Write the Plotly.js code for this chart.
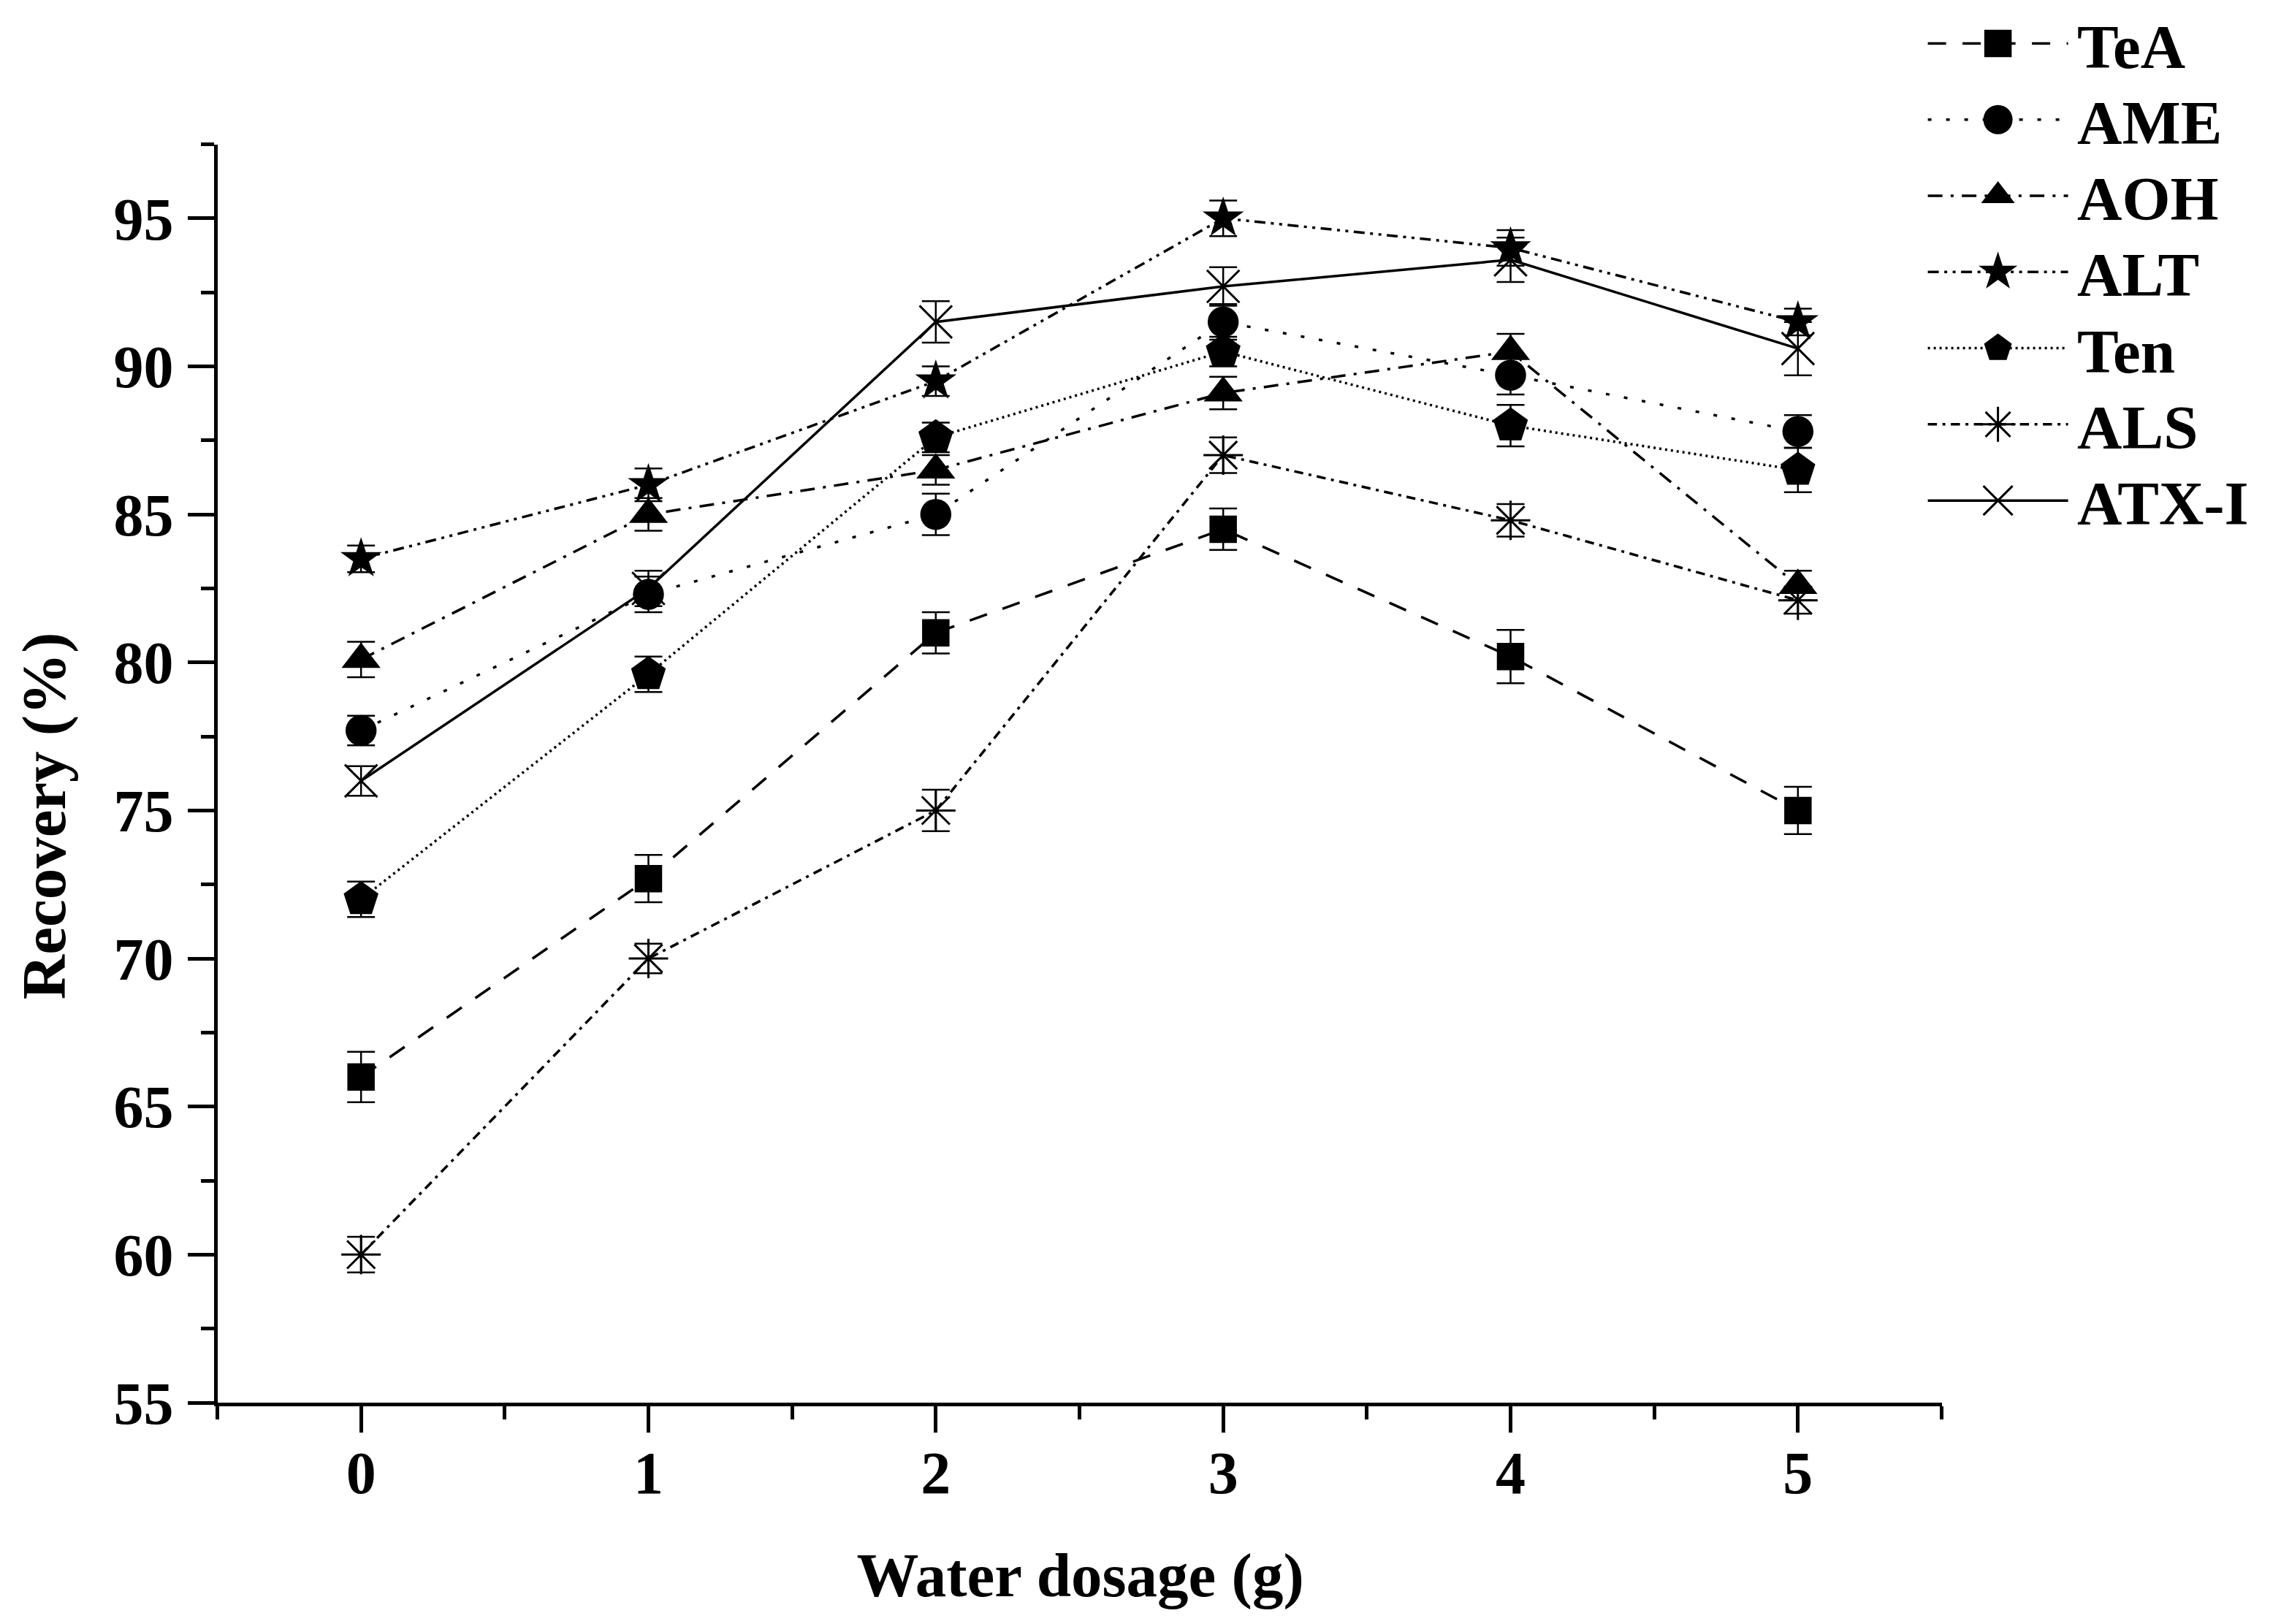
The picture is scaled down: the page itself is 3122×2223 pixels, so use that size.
<!DOCTYPE html>
<html>
<head>
<meta charset="utf-8">
<script src="https://cdn.plot.ly/plotly-3.0.1.min.js"></script>
<style>
    html, body { margin: 0; padding: 0; background: #ffffff; width: 3122px; height: 2223px; overflow: hidden; }
    #wrap { position: absolute; left: 0; top: 0; width: 3122px; height: 2223px; }
    #chart { position: absolute; left: 0; top: 0; transform-origin: 0 0; }
</style>
</head>
<body>
<div id="wrap"><div id="chart"></div></div>
<script>
// Data
var waterDosage = [0, 1, 2, 3, 4, 5];

var seriesNames = ["TeA", "AME", "AOH", "ALT", "Ten", "ALS", "ATX-I"];

var teaRecovery  = [66.0, 72.7, 81.0, 84.5, 80.2, 75.0];
var ameRecovery  = [77.7, 82.3, 85.0, 91.5, 89.7, 87.8];
var aohRecovery  = [80.1, 85.0, 86.5, 89.1, 90.5, 82.6];
var altRecovery  = [83.5, 86.0, 89.5, 95.0, 94.0, 91.5];
var tenRecovery  = [72.0, 79.6, 87.6, 90.5, 88.0, 86.5];
var alsRecovery  = [60.0, 70.0, 75.0, 87.0, 84.8, 82.1];
var atxRecovery  = [76.0, 82.5, 91.5, 92.7, 93.6, 90.6];

var teaError = [0.85, 0.8, 0.7, 0.7, 0.9, 0.8];
var ameError = [0.5, 0.6, 0.7, 0.6, 0.65, 0.55];
var aohError = [0.6, 0.55, 0.5, 0.55, 0.6, 0.5];
var altError = [0.45, 0.55, 0.5, 0.6, 0.6, 0.45];
var tenError = [0.6, 0.6, 0.5, 0.5, 0.7, 0.75];
var alsError = [0.6, 0.5, 0.7, 0.6, 0.55, 0.45];
var atxError = [0.5, 0.6, 0.7, 0.65, 0.75, 0.9];

var yTickValues = [55, 60, 65, 70, 75, 80, 85, 90, 95];

class PlotSettings
{
    // the page is drawn at 1/scale size and blown up, so legend symbols are not clipped at 16px
    static scale = 2.5;
    static width = 1249;
    static height = 889;
    static margin = { l: 119.2, r: 185.8, t: 79.2, b: 121, pad: 0, autoexpand: false };
    static fontFamily = "Liberation Serif, Times New Roman, serif";

    // one legend per series so the rows can sit as tight as in the original
    static legendTop = 24.4;
    static legendStep = 41.7;

    static lineConfig(dash)
    {
        return { color: "#000000", width: 1.4, dash: dash };
    }

    static errorConfig(values)
    {
        return { type: "data", array: values, visible: true, color: "#000000", thickness: 1, width: 7.6 };
    }

    static legendName(index)
    {
        return index === 0 ? "legend" : "legend" + (index + 1);
    }

    static legendConfig(index)
    {
        var plotHeight = this.height - this.margin.t - this.margin.b;
        var rowCenter = this.legendTop + this.legendStep * index;

        return {
            x: 0.9867,
            xanchor: "left",
            y: (this.height - this.margin.b - rowCenter) / plotHeight,
            yanchor: "middle",
            bgcolor: "rgba(0,0,0,0)",
            borderwidth: 0,
            itemwidth: 76.8,
            itemsizing: "trace",
            font: { family: this.fontFamily, size: 34, color: "#000000", weight: "bold" }
        };
    }

    static getDefaultLayout()
    {
        var tickFont = { family: this.fontFamily, size: 32.8, color: "#000000", weight: "bold" };
        var titleFont = { family: this.fontFamily, size: 34, color: "#000000", weight: "bold" };

        var layout = {
            width: this.width,
            height: this.height,
            margin: this.margin,
            paper_bgcolor: "#ffffff",
            plot_bgcolor: "#ffffff",
            showlegend: true,
            xaxis:
            {
                range: [-0.5, 5.5],
                tick0: 0,
                dtick: 1,
                ticks: "outside",
                ticklen: 14.4,
                tickwidth: 2,
                tickcolor: "#000000",
                ticklabelstandoff: -6,
                tickfont: tickFont,
                minor: { dtick: 0.5, ticks: "outside", ticklen: 7.2, tickwidth: 2, tickcolor: "#000000", showgrid: false },
                showline: true,
                linewidth: 2,
                linecolor: "#000000",
                showgrid: false,
                zeroline: false,
                automargin: false,
                fixedrange: true
            },
            yaxis:
            {
                range: [55, 97.5],
                tickmode: "array",
                tickvals: yTickValues,
                ticks: "outside",
                ticklen: 14.4,
                tickwidth: 2,
                tickcolor: "#000000",
                ticklabelstandoff: 1,
                tickfont: tickFont,
                minor: { dtick: 2.5, tick0: 55, ticks: "outside", ticklen: 7.2, tickwidth: 2, tickcolor: "#000000", showgrid: false },
                showline: true,
                linewidth: 2,
                linecolor: "#000000",
                showgrid: false,
                zeroline: false,
                automargin: false,
                fixedrange: true
            },
            annotations:
            [
                {
                    text: "Water dosage (g)",
                    xref: "paper", yref: "paper",
                    x: 0.5, y: -0.1376,
                    xanchor: "center", yanchor: "middle",
                    showarrow: false,
                    font: titleFont
                },
                {
                    text: "Recovery (%)",
                    xref: "paper", yref: "paper",
                    x: -0.0996, y: 0.4669,
                    xanchor: "center", yanchor: "middle",
                    textangle: -90,
                    showarrow: false,
                    font: titleFont
                }
            ]
        };

        for (var i = 0; i < seriesNames.length; i++)
        {
            layout[this.legendName(i)] = this.legendConfig(i);
        }

        return layout;
    }

    static getDefaultConfig()
    {
        return { displayModeBar: false, staticPlot: true, responsive: false };
    }
}

class RecoveryChart
{
    static makeTrace(index, y, err, symbol, size, dash, open)
    {
        return {
            x: waterDosage,
            y: y,
            name: seriesNames[index],
            legend: PlotSettings.legendName(index),
            type: "scatter",
            mode: "lines+markers",
            line: PlotSettings.lineConfig(dash),
            marker:
            {
                symbol: symbol,
                size: size,
                color: "#000000",
                line: { color: "#000000", width: open ? 1.2 : 0 }
            },
            error_y: PlotSettings.errorConfig(err)
        };
    }

    static report()
    {
        var data =
        [
            this.makeTrace(0, teaRecovery, teaError, "square", 15, "10px,9px", false),
            this.makeTrace(1, ameRecovery, ameError, "circle", 17, "2px,8px", false),
            this.makeTrace(2, aohRecovery, aohError, "triangle-up", 18.5, "8px,4.5px,1.6px,4.5px", false),
            this.makeTrace(3, altRecovery, altError, "star", 17, "6px,3px,1.6px,3px,1.6px,3px", false),
            this.makeTrace(4, tenRecovery, tenError, "pentagon", 20, "1.2px,2px", false),
            this.makeTrace(5, alsRecovery, alsError, "asterisk-open", 18, "5px,3px,1.6px,3px", true),
            this.makeTrace(6, atxRecovery, atxError, "x-thin-open", 17.8, "solid", true)
        ];

        var element = document.getElementById("chart");
        element.style.width = PlotSettings.width + "px";
        element.style.height = PlotSettings.height + "px";
        element.style.transform = "scale(" + PlotSettings.scale + ")";

        Plotly.newPlot(element, data, PlotSettings.getDefaultLayout(), PlotSettings.getDefaultConfig());
    }
}

RecoveryChart.report();
</script>
</body>
</html>
